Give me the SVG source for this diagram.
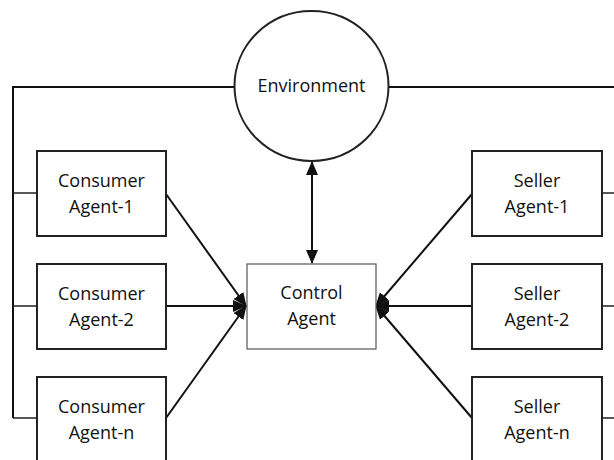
<svg xmlns="http://www.w3.org/2000/svg" width="614" height="460" viewBox="0 0 614 460">
  <style>
    .box { fill: #ffffff; stroke: #222222; stroke-width: 2; }
    .ctrl { fill: #ffffff; stroke: #555555; stroke-width: 1.2; }
    .wire { fill: none; stroke: #111111; stroke-width: 2; }
    .stub { fill: none; stroke: #222222; stroke-width: 1.5; }
    .arrow { fill: none; stroke: #111111; stroke-width: 2; }
    text { font-family: "Open Sans", "Noto Sans", "Liberation Sans", sans-serif; font-size: 18px; fill: #111111; text-anchor: middle; dominant-baseline: central; }
  </style>
  <defs>
    <marker id="head" markerUnits="userSpaceOnUse" markerWidth="14" markerHeight="12" viewBox="0 0 14 12" refX="13" refY="6" orient="auto-start-reverse">
      <path d="M0,0 L14,6 L0,12 Z" fill="#111111"/>
    </marker>
  </defs>

  <rect width="614" height="460" fill="#ffffff"/>

  <!-- connectors -->
  <g id="connectors">
    <!-- shared bus from the environment to every agent -->
    <path class="wire" d="M234,87 H13 V418"/>
    <path class="wire" d="M389,87 H614"/>
    <path class="stub" d="M13,193 H37 M13,306 H37 M13,418 H37"/>
    <path class="stub" d="M602,193 H614 M602,306 H614 M602,418 H614"/>
    <!-- environment <-> control -->
    <path class="arrow" d="M312,162 V263" marker-start="url(#head)" marker-end="url(#head)"/>
    <!-- consumers -> control -->
    <path class="arrow" d="M166,194 L246,306" marker-end="url(#head)"/>
    <path class="arrow" d="M166,306 L246,306" marker-end="url(#head)"/>
    <path class="arrow" d="M166,418 L246,306" marker-end="url(#head)"/>
    <!-- sellers -> control -->
    <path class="arrow" d="M472,194 L376,306" marker-end="url(#head)"/>
    <path class="arrow" d="M472,306 L376,306" marker-end="url(#head)"/>
    <path class="arrow" d="M472,418 L376,306" marker-end="url(#head)"/>
  </g>

  <g id="environment">
    <ellipse class="box" cx="311.5" cy="86" rx="77" ry="75"/>
    <text x="311.5" y="85">Environment</text>
  </g>

  <g id="control-agent">
    <rect class="ctrl" x="247" y="264" width="129" height="85"/>
    <text x="311.5" y="292">Control</text>
    <text x="311.5" y="318">Agent</text>
  </g>

  <g id="consumer-1">
    <rect class="box" x="37" y="151" width="129" height="85"/>
    <text x="101.5" y="180">Consumer</text>
    <text x="101.5" y="206">Agent-1</text>
  </g>
  <g id="consumer-2">
    <rect class="box" x="37" y="264" width="129" height="85"/>
    <text x="101.5" y="293">Consumer</text>
    <text x="101.5" y="319">Agent-2</text>
  </g>
  <g id="consumer-n">
    <rect class="box" x="37" y="377" width="129" height="90"/>
    <text x="101.5" y="406">Consumer</text>
    <text x="101.5" y="432">Agent-n</text>
  </g>

  <g id="seller-1">
    <rect class="box" x="472" y="151" width="130" height="85"/>
    <text x="537" y="180">Seller</text>
    <text x="537" y="206">Agent-1</text>
  </g>
  <g id="seller-2">
    <rect class="box" x="472" y="264" width="130" height="85"/>
    <text x="537" y="293">Seller</text>
    <text x="537" y="319">Agent-2</text>
  </g>
  <g id="seller-n">
    <rect class="box" x="472" y="377" width="130" height="90"/>
    <text x="537" y="406">Seller</text>
    <text x="537" y="432">Agent-n</text>
  </g>
</svg>
